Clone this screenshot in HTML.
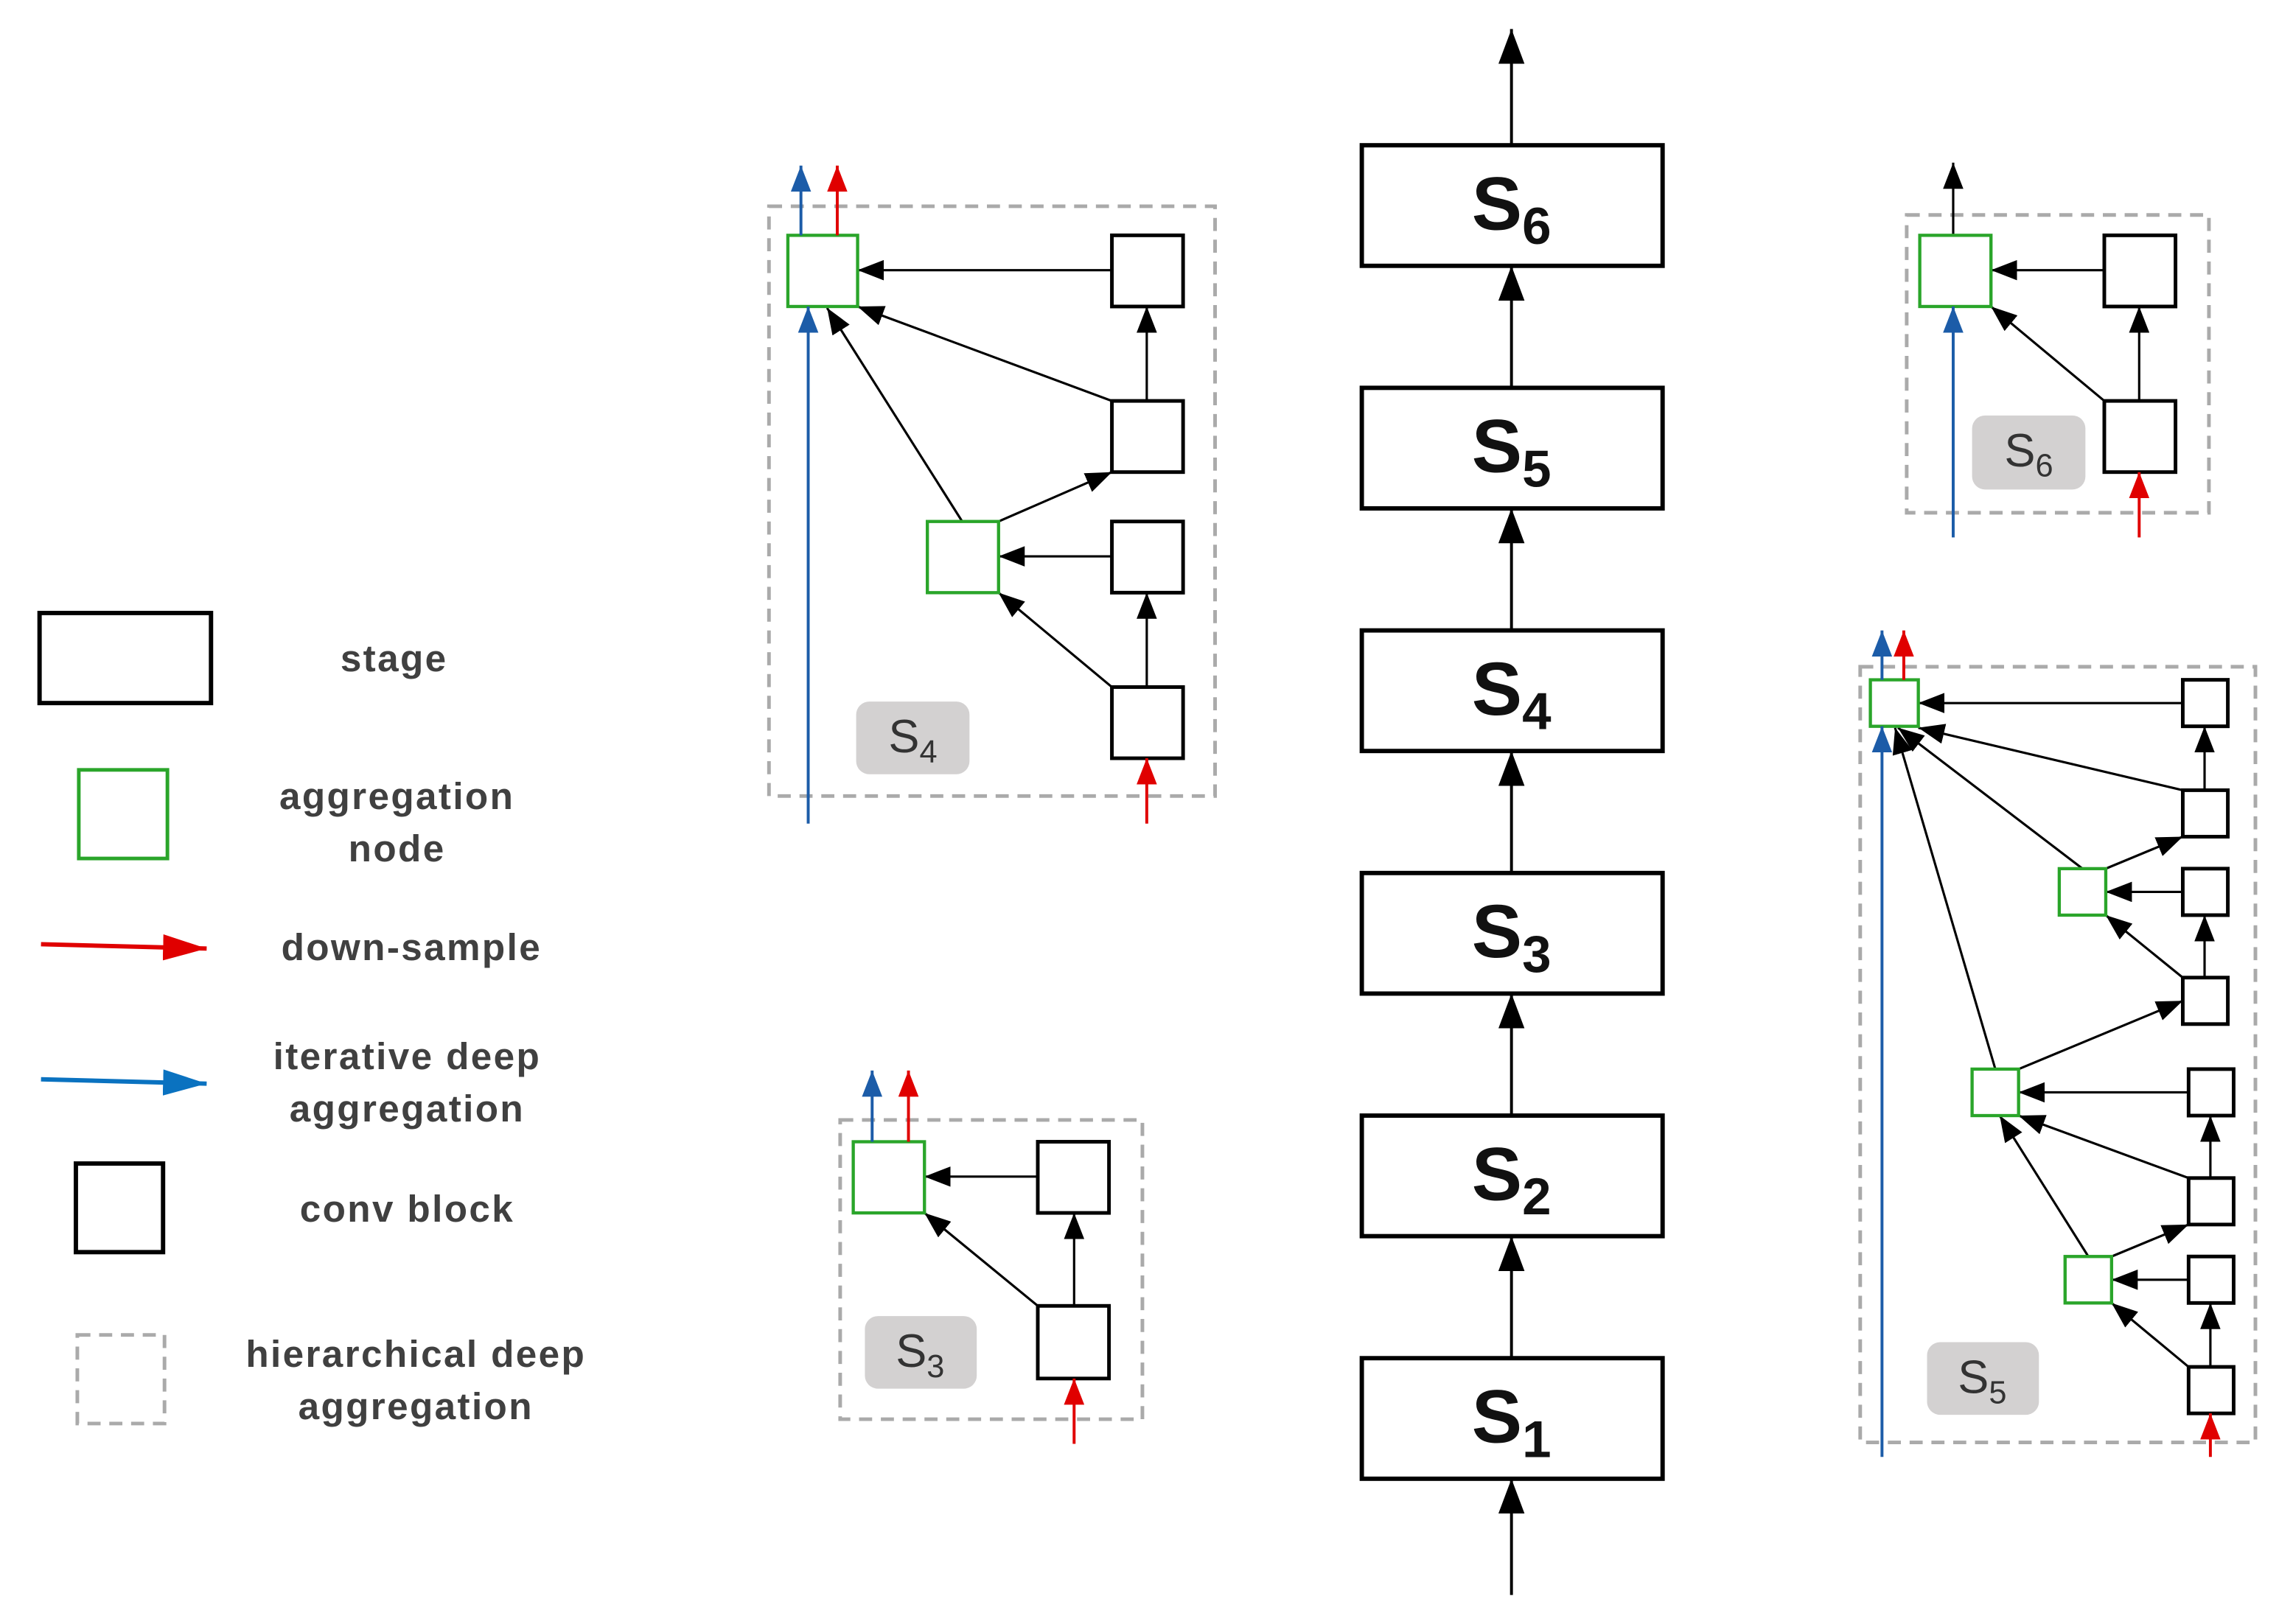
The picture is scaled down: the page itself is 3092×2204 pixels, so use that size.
<!DOCTYPE html>
<html><head><meta charset="utf-8"><style>
html,body{margin:0;padding:0;background:#fff;}
svg{display:block;}
text{font-family:"Liberation Sans","DejaVu Sans",sans-serif;}
.lg{font-size:26px;font-weight:bold;fill:#404040;letter-spacing:1.2px;text-anchor:middle;}
.st{font-size:52px;font-weight:bold;fill:#111;text-anchor:middle;}
.lb{font-size:32px;fill:#333;text-anchor:middle;}
</style></head><body>
<svg width="3092" height="2204" viewBox="0 0 1568 1118" xmlns="http://www.w3.org/2000/svg">
<defs>
<marker id="ak" markerUnits="userSpaceOnUse" markerWidth="18" markerHeight="14" viewBox="0 0 18 14" refX="18" refY="7" orient="auto"><path d="M0,0 L18,7 L0,14 z" fill="#000"/></marker>
<marker id="aK" markerUnits="userSpaceOnUse" markerWidth="24" markerHeight="18" viewBox="0 0 24 18" refX="24" refY="9" orient="auto"><path d="M0,0 L24,9 L0,18 z" fill="#000"/></marker>
<marker id="ar" markerUnits="userSpaceOnUse" markerWidth="18" markerHeight="14" viewBox="0 0 18 14" refX="18" refY="7" orient="auto"><path d="M0,0 L18,7 L0,14 z" fill="#e00000"/></marker>
<marker id="ab" markerUnits="userSpaceOnUse" markerWidth="18" markerHeight="14" viewBox="0 0 18 14" refX="18" refY="7" orient="auto"><path d="M0,0 L18,7 L0,14 z" fill="#1c5ca8"/></marker>
<marker id="aR" markerUnits="userSpaceOnUse" markerWidth="30" markerHeight="18" viewBox="0 0 30 18" refX="30" refY="9" orient="auto"><path d="M0,0 L30,9 L0,18 z" fill="#e00000"/></marker>
<marker id="aB" markerUnits="userSpaceOnUse" markerWidth="30" markerHeight="18" viewBox="0 0 30 18" refX="30" refY="9" orient="auto"><path d="M0,0 L30,9 L0,18 z" fill="#0a72c0"/></marker>
</defs>

<!-- Legend -->
<rect x="27" y="422" width="118" height="62" fill="none" stroke="#000" stroke-width="3"/>
<text class="lg" x="271" y="462">stage</text>
<rect x="54" y="530" width="61" height="61" fill="none" stroke="#2aa52a" stroke-width="2.5"/>
<text class="lg" x="273" y="557">aggregation</text>
<text class="lg" x="273" y="593">node</text>
<line x1="28" y1="650" x2="142" y2="653" stroke="#e00000" stroke-width="3" marker-end="url(#aR)"/>
<text class="lg" x="283" y="661">down-sample</text>
<line x1="28" y1="743" x2="142" y2="746" stroke="#0a72c0" stroke-width="3" marker-end="url(#aB)"/>
<text class="lg" x="280" y="736">iterative deep</text>
<text class="lg" x="280" y="772">aggregation</text>
<rect x="52" y="801" width="60" height="61" fill="none" stroke="#000" stroke-width="3"/>
<text class="lg" x="280" y="841">conv block</text>
<rect x="53" y="919" width="60" height="61" fill="none" stroke="#aaa" stroke-width="2.5" stroke-dasharray="9,6"/>
<text class="lg" x="286" y="941">hierarchical deep</text>
<text class="lg" x="286" y="977">aggregation</text>

<!-- Main stages -->
<g fill="#fff" stroke="#000" stroke-width="3">
<rect x="937" y="100" width="207" height="83"/>
<rect x="937" y="267" width="207" height="83"/>
<rect x="937" y="434" width="207" height="83"/>
<rect x="937" y="601" width="207" height="83"/>
<rect x="937" y="768" width="207" height="83"/>
<rect x="937" y="935" width="207" height="83"/>
</g>
<g stroke="#000" stroke-width="2" marker-end="url(#aK)">
<line x1="1040" y1="100" x2="1040" y2="20"/>
<line x1="1040" y1="267" x2="1040" y2="183"/>
<line x1="1040" y1="434" x2="1040" y2="350"/>
<line x1="1040" y1="601" x2="1040" y2="517"/>
<line x1="1040" y1="768" x2="1040" y2="684"/>
<line x1="1040" y1="935" x2="1040" y2="851"/>
<line x1="1040" y1="1098" x2="1040" y2="1018"/>
</g>
<text class="st" x="1040" y="158">S<tspan font-size="36" dy="10">6</tspan></text>
<text class="st" x="1040" y="325">S<tspan font-size="36" dy="10">5</tspan></text>
<text class="st" x="1040" y="492">S<tspan font-size="36" dy="10">4</tspan></text>
<text class="st" x="1040" y="659">S<tspan font-size="36" dy="10">3</tspan></text>
<text class="st" x="1040" y="826">S<tspan font-size="36" dy="10">2</tspan></text>
<text class="st" x="1040" y="993">S<tspan font-size="36" dy="10">1</tspan></text>

<!-- S4 panel -->
<rect x="529" y="142" width="307" height="406" fill="none" stroke="#aaa" stroke-width="2.5" stroke-dasharray="9,6"/>
<rect x="589" y="483" width="78" height="50" rx="9" fill="#d3d1d1"/>
<text class="lb" x="628" y="518">S<tspan font-size="22" dy="7">4</tspan></text>
<g stroke="#000" stroke-width="1.6" marker-end="url(#ak)">
<line x1="765" y1="186" x2="590" y2="186"/>
<line x1="789" y1="276" x2="789" y2="211"/>
<line x1="765" y1="276" x2="590" y2="211"/>
<line x1="662" y1="359" x2="569" y2="212"/>
<line x1="687" y1="359" x2="765" y2="325"/>
<line x1="765" y1="383" x2="687" y2="383"/>
<line x1="789" y1="473" x2="789" y2="408"/>
<line x1="765" y1="473" x2="687" y2="408"/>
</g>
<g fill="#fff" stroke="#000" stroke-width="2.5">
<rect x="765" y="162" width="49" height="49"/>
<rect x="765" y="276" width="49" height="49"/>
<rect x="765" y="359" width="49" height="49"/>
<rect x="765" y="473" width="49" height="49"/>
</g>
<g fill="#fff" stroke="#2aa52a" stroke-width="2.2">
<rect x="542" y="162" width="48" height="49"/>
<rect x="638" y="359" width="49" height="49"/>
</g>
<line x1="556" y1="567" x2="556" y2="211" stroke="#1c5ca8" stroke-width="2" marker-end="url(#ab)"/>
<line x1="551" y1="162" x2="551" y2="114" stroke="#1c5ca8" stroke-width="2" marker-end="url(#ab)"/>
<line x1="576" y1="162" x2="576" y2="114" stroke="#e00000" stroke-width="2" marker-end="url(#ar)"/>
<line x1="789" y1="567" x2="789" y2="522" stroke="#e00000" stroke-width="2" marker-end="url(#ar)"/>

<!-- S3 panel -->
<rect x="578" y="771" width="208" height="206" fill="none" stroke="#aaa" stroke-width="2.5" stroke-dasharray="9,6"/>
<rect x="595" y="906" width="77" height="50" rx="9" fill="#d3d1d1"/>
<text class="lb" x="633" y="941">S<tspan font-size="22" dy="7">3</tspan></text>
<g stroke="#000" stroke-width="1.6" marker-end="url(#ak)">
<line x1="714" y1="810" x2="636" y2="810"/>
<line x1="739" y1="899" x2="739" y2="835"/>
<line x1="714" y1="899" x2="636" y2="835"/>
</g>
<g fill="#fff" stroke="#000" stroke-width="2.5">
<rect x="714" y="786" width="49" height="49"/>
<rect x="714" y="899" width="49" height="50"/>
</g>
<rect x="587" y="786" width="49" height="49" fill="#fff" stroke="#2aa52a" stroke-width="2.2"/>
<line x1="600" y1="786" x2="600" y2="737" stroke="#1c5ca8" stroke-width="2" marker-end="url(#ab)"/>
<line x1="625" y1="786" x2="625" y2="737" stroke="#e00000" stroke-width="2" marker-end="url(#ar)"/>
<line x1="739" y1="994" x2="739" y2="949" stroke="#e00000" stroke-width="2" marker-end="url(#ar)"/>

<!-- S6 panel -->
<rect x="1312" y="148" width="208" height="205" fill="none" stroke="#aaa" stroke-width="2.5" stroke-dasharray="9,6"/>
<rect x="1357" y="286" width="78" height="51" rx="9" fill="#d3d1d1"/>
<text class="lb" x="1396" y="321">S<tspan font-size="22" dy="7">6</tspan></text>
<g stroke="#000" stroke-width="1.6" marker-end="url(#ak)">
<line x1="1448" y1="186" x2="1370" y2="186"/>
<line x1="1472" y1="276" x2="1472" y2="211"/>
<line x1="1448" y1="276" x2="1370" y2="211"/>
<line x1="1344" y1="162" x2="1344" y2="112"/>
</g>
<g fill="#fff" stroke="#000" stroke-width="2.5">
<rect x="1448" y="162" width="49" height="49"/>
<rect x="1448" y="276" width="49" height="49"/>
</g>
<rect x="1321" y="162" width="49" height="49" fill="#fff" stroke="#2aa52a" stroke-width="2.2"/>
<line x1="1344" y1="370" x2="1344" y2="211" stroke="#1c5ca8" stroke-width="2" marker-end="url(#ab)"/>
<line x1="1472" y1="370" x2="1472" y2="325" stroke="#e00000" stroke-width="2" marker-end="url(#ar)"/>

<!-- S5 panel -->
<rect x="1280" y="459" width="272" height="534" fill="none" stroke="#aaa" stroke-width="2.5" stroke-dasharray="9,6"/>
<rect x="1326" y="924" width="77" height="50" rx="9" fill="#d3d1d1"/>
<text class="lb" x="1364" y="959">S<tspan font-size="22" dy="7">5</tspan></text>
<g stroke="#000" stroke-width="1.6" marker-end="url(#ak)">
<line x1="1502" y1="484" x2="1320" y2="484"/>
<line x1="1517" y1="544" x2="1517" y2="500"/>
<line x1="1502" y1="544" x2="1320" y2="501"/>
<line x1="1433" y1="598" x2="1306" y2="501"/>
<line x1="1449" y1="598" x2="1502" y2="576"/>
<line x1="1502" y1="614" x2="1449" y2="614"/>
<line x1="1517" y1="673" x2="1517" y2="630"/>
<line x1="1502" y1="673" x2="1449" y2="630"/>
<line x1="1373" y1="736" x2="1304" y2="501"/>
<line x1="1389" y1="736" x2="1502" y2="689"/>
<line x1="1506" y1="752" x2="1389" y2="752"/>
<line x1="1521" y1="811" x2="1521" y2="768"/>
<line x1="1506" y1="811" x2="1389" y2="768"/>
<line x1="1437" y1="865" x2="1376" y2="768"/>
<line x1="1453" y1="865" x2="1506" y2="843"/>
<line x1="1506" y1="881" x2="1453" y2="881"/>
<line x1="1521" y1="941" x2="1521" y2="897"/>
<line x1="1506" y1="941" x2="1453" y2="897"/>
</g>
<g fill="#fff" stroke="#000" stroke-width="2.5">
<rect x="1502" y="468" width="31" height="32"/>
<rect x="1502" y="544" width="31" height="32"/>
<rect x="1502" y="598" width="31" height="32"/>
<rect x="1502" y="673" width="31" height="32"/>
<rect x="1506" y="736" width="31" height="32"/>
<rect x="1506" y="811" width="31" height="32"/>
<rect x="1506" y="865" width="31" height="32"/>
<rect x="1506" y="941" width="31" height="32"/>
</g>
<g fill="#fff" stroke="#2aa52a" stroke-width="2.2">
<rect x="1287" y="468" width="33" height="32"/>
<rect x="1417" y="598" width="32" height="32"/>
<rect x="1357" y="736" width="32" height="32"/>
<rect x="1421" y="865" width="32" height="32"/>
</g>
<line x1="1295" y1="1003" x2="1295" y2="500" stroke="#1c5ca8" stroke-width="2" marker-end="url(#ab)"/>
<line x1="1295" y1="468" x2="1295" y2="434" stroke="#1c5ca8" stroke-width="2" marker-end="url(#ab)"/>
<line x1="1310" y1="468" x2="1310" y2="434" stroke="#e00000" stroke-width="2" marker-end="url(#ar)"/>
<line x1="1521" y1="1003" x2="1521" y2="973" stroke="#e00000" stroke-width="2" marker-end="url(#ar)"/>
</svg>
</body></html>
